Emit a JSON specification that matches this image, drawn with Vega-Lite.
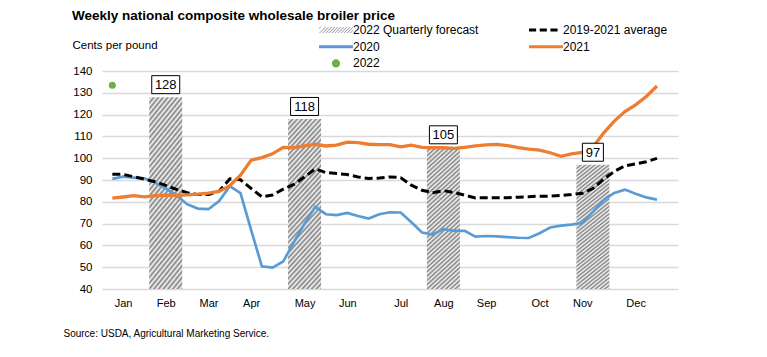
{
  "$schema": "https://vega.github.io/schema/vega-lite/v6.json",
  "width": 576,
  "height": 218,
  "autosize": {"type": "none"},
  "padding": {"left": 102, "top": 71, "right": 89, "bottom": 68},
  "background": "white",
  "config": {
    "view": {"stroke": null},
    "font": "Liberation Sans",
    "axisY": {
      "tickCount": 11, "labelOverlap": false, "grid": true, "gridColor": "#d9d9d9", "gridWidth": 1.5,
      "ticks": false, "domain": false, "labelFontSize": 11.5, "labelColor": "#000000", "labelPadding": 10
    }
  },
  "title": {"text": "Weekly national composite wholesale broiler price", "anchor": "start", "frame": "bounds", "dx": 9, "dy": 2, "fontSize": 13.5, "font": "Liberation Sans", "fontWeight": "bold", "color": "#000000"},
  "datasets": {
    "weekly": [
      {"week":0,"avg":92.6,"p2020":90.5,"p2021":81.7},
      {"week":1,"avg":92.6,"p2020":91.5,"p2021":82.2},
      {"week":2,"avg":91.5,"p2020":91.1,"p2021":82.8},
      {"week":3,"avg":90.4,"p2020":90.8,"p2021":82.3},
      {"week":4,"avg":89.2,"p2020":88.8,"p2021":82.8},
      {"week":5,"avg":87.5,"p2020":86.1,"p2021":83.0},
      {"week":6,"avg":85.7,"p2020":83.0,"p2021":83.0},
      {"week":7,"avg":84.2,"p2020":78.9,"p2021":83.2},
      {"week":8,"avg":83.3,"p2020":76.9,"p2021":83.5},
      {"week":9,"avg":83.3,"p2020":76.6,"p2021":84.0},
      {"week":10,"avg":84.9,"p2020":80.3,"p2021":84.8},
      {"week":11,"avg":90.5,"p2020":87.2,"p2021":87.4},
      {"week":12,"avg":90.1,"p2020":84.0,"p2021":92.2},
      {"week":13,"avg":86.1,"p2020":67.0,"p2021":99.1},
      {"week":14,"avg":82.3,"p2020":50.4,"p2021":100.3},
      {"week":15,"avg":83.1,"p2020":49.8,"p2021":102.0},
      {"week":16,"avg":85.8,"p2020":52.6,"p2021":105.0},
      {"week":17,"avg":88.0,"p2020":61.5,"p2021":104.8},
      {"week":18,"avg":91.4,"p2020":70.0,"p2021":105.6},
      {"week":19,"avg":95.1,"p2020":77.7,"p2021":106.4},
      {"week":20,"avg":93.4,"p2020":74.3,"p2021":105.6},
      {"week":21,"avg":93.0,"p2020":73.9,"p2021":106.0},
      {"week":22,"avg":92.5,"p2020":74.9,"p2021":107.4},
      {"week":23,"avg":91.4,"p2020":73.5,"p2021":107.1},
      {"week":24,"avg":90.7,"p2020":72.3,"p2021":106.4},
      {"week":25,"avg":90.9,"p2020":74.3,"p2021":106.2},
      {"week":26,"avg":91.4,"p2020":75.2,"p2021":106.2},
      {"week":27,"avg":91.1,"p2020":75.1,"p2021":105.2},
      {"week":28,"avg":87.6,"p2020":70.6,"p2021":106.0},
      {"week":29,"avg":85.3,"p2020":65.9,"p2021":105.0},
      {"week":30,"avg":84.2,"p2020":65.0,"p2021":104.8},
      {"week":31,"avg":85.1,"p2020":67.5,"p2021":104.8},
      {"week":32,"avg":84.3,"p2020":66.7,"p2021":104.5},
      {"week":33,"avg":83.0,"p2020":66.7,"p2021":105.0},
      {"week":34,"avg":81.8,"p2020":64.0,"p2021":105.7},
      {"week":35,"avg":81.9,"p2020":64.3,"p2021":106.1},
      {"week":36,"avg":81.9,"p2020":64.1,"p2021":106.3},
      {"week":37,"avg":81.9,"p2020":63.8,"p2021":105.8},
      {"week":38,"avg":82.1,"p2020":63.5,"p2021":104.9},
      {"week":39,"avg":82.3,"p2020":63.4,"p2021":104.2},
      {"week":40,"avg":82.6,"p2020":65.6,"p2021":103.7},
      {"week":41,"avg":82.6,"p2020":68.2,"p2021":102.5},
      {"week":42,"avg":82.9,"p2020":69.1,"p2021":100.9},
      {"week":43,"avg":83.3,"p2020":69.5,"p2021":102.0},
      {"week":44,"avg":83.9,"p2020":70.3,"p2021":102.7},
      {"week":45,"avg":86.1,"p2020":75.4,"p2021":105.0},
      {"week":46,"avg":90.4,"p2020":80.8,"p2021":111.5},
      {"week":47,"avg":93.9,"p2020":84.1,"p2021":117.0},
      {"week":48,"avg":96.5,"p2020":85.6,"p2021":121.4},
      {"week":49,"avg":97.4,"p2020":83.7,"p2021":124.5},
      {"week":50,"avg":98.4,"p2020":82.0,"p2021":128.3},
      {"week":51,"avg":99.9,"p2020":81.0,"p2021":133.1}
    ],
    "forecast": [
      {"week":5,"price":128},
      {"week":18,"price":118},
      {"week":31,"price":105},
      {"week":45,"price":97}
    ],
    "y2022": [
      {"week":0,"price":133.5}
    ],
    "series": [
      {"series":"2022 Quarterly forecast"},
      {"series":"2020"},
      {"series":"2022"},
      {"series":"2019-2021 average"},
      {"series":"2021"}
    ]
  },
  "encoding": {
    "x": {
      "field": "week",
      "type": "quantitative",
      "title": "Source: USDA, Agricultural Marketing Service.",
      "scale": {"domain": [-0.5, 52.5], "nice": false, "zero": false},
      "axis": {
        "values": [1,5,9,13,18,22,27,31,35,40,44,49],
        "labelExpr": "['Jan','Feb','Mar','Apr','May','Jun','Jul','Aug','Sep','Oct','Nov','Dec'][indexof([1,5,9,13,18,22,27,31,35,40,44,49], datum.value)]",
        "grid": false, "ticks": false, "domain": false, "labelOverlap": false,
        "labelFontSize": 11, "labelColor": "#000000", "labelPadding": 8, "labelFont": "Liberation Sans",
        "titleFontSize": 10, "titleFontWeight": "normal", "titleColor": "#000000", "titleFont": "Liberation Sans",
        "titleAnchor": "start", "titleAlign": "left", "titleX": -39, "titleY": 44, "titleBaseline": "middle"
      }
    }
  },
  "layer": [
    {
      "data": {"name": "forecast"},
      "mark": {
        "type": "bar", "size": 33,
        "fill": {
          "gradient": "linear", "x1": 0, "y1": 0, "x2": 0.247, "y2": 1.16,
          "stops": [
            {"offset":0,"color":"#808080"},{"offset":0.0125,"color":"#f8f8f8"},{"offset":0.025,"color":"#808080"},{"offset":0.0375,"color":"#f8f8f8"},
            {"offset":0.05,"color":"#808080"},{"offset":0.0625,"color":"#f8f8f8"},{"offset":0.075,"color":"#808080"},{"offset":0.0875,"color":"#f8f8f8"},
            {"offset":0.1,"color":"#808080"},{"offset":0.1125,"color":"#f8f8f8"},{"offset":0.125,"color":"#808080"},{"offset":0.1375,"color":"#f8f8f8"},
            {"offset":0.15,"color":"#808080"},{"offset":0.1625,"color":"#f8f8f8"},{"offset":0.175,"color":"#808080"},{"offset":0.1875,"color":"#f8f8f8"},
            {"offset":0.2,"color":"#808080"},{"offset":0.2125,"color":"#f8f8f8"},{"offset":0.225,"color":"#808080"},{"offset":0.2375,"color":"#f8f8f8"},
            {"offset":0.25,"color":"#808080"},{"offset":0.2625,"color":"#f8f8f8"},{"offset":0.275,"color":"#808080"},{"offset":0.2875,"color":"#f8f8f8"},
            {"offset":0.3,"color":"#808080"},{"offset":0.3125,"color":"#f8f8f8"},{"offset":0.325,"color":"#808080"},{"offset":0.3375,"color":"#f8f8f8"},
            {"offset":0.35,"color":"#808080"},{"offset":0.3625,"color":"#f8f8f8"},{"offset":0.375,"color":"#808080"},{"offset":0.3875,"color":"#f8f8f8"},
            {"offset":0.4,"color":"#808080"},{"offset":0.4125,"color":"#f8f8f8"},{"offset":0.425,"color":"#808080"},{"offset":0.4375,"color":"#f8f8f8"},
            {"offset":0.45,"color":"#808080"},{"offset":0.4625,"color":"#f8f8f8"},{"offset":0.475,"color":"#808080"},{"offset":0.4875,"color":"#f8f8f8"},
            {"offset":0.5,"color":"#808080"},{"offset":0.5125,"color":"#f8f8f8"},{"offset":0.525,"color":"#808080"},{"offset":0.5375,"color":"#f8f8f8"},
            {"offset":0.55,"color":"#808080"},{"offset":0.5625,"color":"#f8f8f8"},{"offset":0.575,"color":"#808080"},{"offset":0.5875,"color":"#f8f8f8"},
            {"offset":0.6,"color":"#808080"},{"offset":0.6125,"color":"#f8f8f8"},{"offset":0.625,"color":"#808080"},{"offset":0.6375,"color":"#f8f8f8"},
            {"offset":0.65,"color":"#808080"},{"offset":0.6625,"color":"#f8f8f8"},{"offset":0.675,"color":"#808080"},{"offset":0.6875,"color":"#f8f8f8"},
            {"offset":0.7,"color":"#808080"},{"offset":0.7125,"color":"#f8f8f8"},{"offset":0.725,"color":"#808080"},{"offset":0.7375,"color":"#f8f8f8"},
            {"offset":0.75,"color":"#808080"},{"offset":0.7625,"color":"#f8f8f8"},{"offset":0.775,"color":"#808080"},{"offset":0.7875,"color":"#f8f8f8"},
            {"offset":0.8,"color":"#808080"},{"offset":0.8125,"color":"#f8f8f8"},{"offset":0.825,"color":"#808080"},{"offset":0.8375,"color":"#f8f8f8"},
            {"offset":0.85,"color":"#808080"},{"offset":0.8625,"color":"#f8f8f8"},{"offset":0.875,"color":"#808080"},{"offset":0.8875,"color":"#f8f8f8"},
            {"offset":0.9,"color":"#808080"},{"offset":0.9125,"color":"#f8f8f8"},{"offset":0.925,"color":"#808080"},{"offset":0.9375,"color":"#f8f8f8"},
            {"offset":0.95,"color":"#808080"},{"offset":0.9625,"color":"#f8f8f8"},{"offset":0.975,"color":"#808080"},{"offset":0.9875,"color":"#f8f8f8"},
            {"offset":1,"color":"#808080"}
          ]
        }
      },
      "encoding": {
        "y": {
          "field": "price", "type": "quantitative", "title": "Cents per pound",
          "scale": {"domain": [40, 140], "nice": false, "zero": false},
          "axis": {
            "values": [40,50,60,70,80,90,100,110,120,130,140],
            "tickCount": 11, "labelOverlap": false,
            "grid": true, "gridColor": "#d9d9d9", "gridWidth": 1.5,
            "ticks": false, "domain": false,
            "labelFontSize": 11.5, "labelColor": "#000000", "labelPadding": 10, "labelFont": "Liberation Sans",
            "titleAngle": 0, "titleAlign": "left", "titleBaseline": "middle", "titleX": -30, "titleY": -26,
            "titleFontSize": 11.5, "titleFontWeight": "normal", "titleColor": "#000000", "titleFont": "Liberation Sans"
          }
        },
        "y2": {"datum": 40}
      }
    },
    {
      "data": {"name": "weekly"},
      "mark": {"type": "line", "strokeWidth": 2.7, "color": "#5b9bd5"},
      "encoding": {
        "y": {"field": "p2020", "type": "quantitative", "title": "Cents per pound"}
      }
    },
    {
      "data": {"name": "weekly"},
      "mark": {"type": "line", "strokeWidth": 3, "strokeDash": [8, 4], "color": "#000000"},
      "encoding": {
        "y": {"field": "avg", "type": "quantitative", "title": "Cents per pound"}
      }
    },
    {
      "data": {"name": "weekly"},
      "mark": {"type": "line", "strokeWidth": 3.3, "color": "#ed7d31"},
      "encoding": {
        "y": {"field": "p2021", "type": "quantitative", "title": "Cents per pound"}
      }
    },
    {
      "data": {"name": "y2022"},
      "mark": {"type": "point", "filled": true, "size": 50, "opacity": 1, "color": "#70ad47"},
      "encoding": {
        "y": {"field": "price", "type": "quantitative", "title": "Cents per pound"}
      }
    },
    {
      "data": {"name": "series"},
      "mark": {"type": "point", "filled": true, "opacity": 1, "size": 1156},
      "encoding": {
        "y": {"field": "price", "type": "quantitative", "title": "Cents per pound"},
        "color": {
          "field": "series", "type": "nominal",
          "scale": {"domain": ["2022 Quarterly forecast", "2020", "2022", "2019-2021 average", "2021"], "range": ["#a0a0a0", "#5b9bd5", "#70ad47", "#000000", "#ed7d31"]},
          "legend": {
            "title": null, "orient": "none", "legendX": 216, "legendY": -47, "padding": 0,
            "columns": 2, "columnPadding": 49, "rowPadding": 4.7, "clipHeight": 12,
            "symbolSize": 1156, "symbolOpacity": 1, "labelOffset": -1, "labelFontSize": 12, "labelFont": "Liberation Sans", "labelColor": "#000000", "labelLimit": 300
          }
        },
        "shape": {
          "field": "series", "type": "nominal",
          "scale": {
            "domain": ["2022 Quarterly forecast", "2020", "2022", "2019-2021 average", "2021"],
            "range": [
              "M-1,-0.2L-1,-0.2Z M1,0.2L1,0.2Z M-1,-0.04L-0.86,-0.18H-0.93L-1,-0.11Z M-1,0.18L-0.93,0.18L-0.57,-0.18L-0.64,-0.18Z M-0.82,0.18L-0.75,0.18L-0.39,-0.18L-0.46,-0.18Z M-0.64,0.18L-0.57,0.18L-0.21,-0.18L-0.28,-0.18Z M-0.46,0.18L-0.39,0.18L-0.03,-0.18L-0.1,-0.18Z M-0.28,0.18L-0.21,0.18L0.15,-0.18L0.08,-0.18Z M-0.1,0.18L-0.03,0.18L0.33,-0.18L0.26,-0.18Z M0.08,0.18L0.15,0.18L0.51,-0.18L0.44,-0.18Z M0.26,0.18L0.33,0.18L0.69,-0.18L0.62,-0.18Z M0.44,0.18L0.51,0.18L0.87,-0.18L0.8,-0.18Z M0.62,0.18L0.69,0.18L1,-0.13V-0.18H0.98Z M0.8,0.18L0.87,0.18L1,0.05V-0.02Z",
              "M-1,-0.2L-1,-0.2Z M1,0.2L1,0.2Z M-1,-0.09H1V0.09H-1Z",
              "M-1,-0.2L-1,-0.2Z M1,0.2L1,0.2Z M-0.24,0A0.24,0.24 0 1,0 0.24,0A0.24,0.24 0 1,0 -0.24,0Z",
              "M-1,-0.2L-1,-0.2Z M1,0.2L1,0.2Z M-1,-0.09H-0.58V0.09H-1Z M-0.37,-0.09H0.05V0.09H-0.37Z M0.26,-0.09H0.68V0.09H0.26Z",
              "M-1,-0.2L-1,-0.2Z M1,0.2L1,0.2Z M-1,-0.09H1V0.09H-1Z"
            ]
          },
          "legend": {
            "title": null, "orient": "none", "legendX": 216, "legendY": -47, "padding": 0,
            "columns": 2, "columnPadding": 49, "rowPadding": 4.7, "clipHeight": 12,
            "symbolSize": 1156, "symbolOpacity": 1, "labelOffset": -1, "labelFontSize": 12, "labelFont": "Liberation Sans", "labelColor": "#000000", "labelLimit": 300
          }
        }
      }
    },
    {
      "data": {"name": "forecast"},
      "mark": {"type": "point", "filled": false, "fill": "white", "fillOpacity": 1, "stroke": "black", "strokeWidth": 1, "opacity": 1, "size": 784, "yOffset": -12.5},
      "encoding": {
        "y": {"field": "price", "type": "quantitative", "title": "Cents per pound"},
        "shape": {"condition": {"test": "datum.price < 100", "value": "M-0.75,-0.643H0.75V0.643H-0.75Z"}, "value": "M-1,-0.643H1V0.643H-1Z"}
      }
    },
    {
      "data": {"name": "forecast"},
      "mark": {"type": "text", "fontSize": 13, "font": "Liberation Sans", "color": "#000000", "baseline": "middle", "align": "center", "yOffset": -12},
      "encoding": {
        "y": {"field": "price", "type": "quantitative", "title": "Cents per pound"},
        "text": {"field": "price", "type": "quantitative"}
      }
    }
  ]
}
